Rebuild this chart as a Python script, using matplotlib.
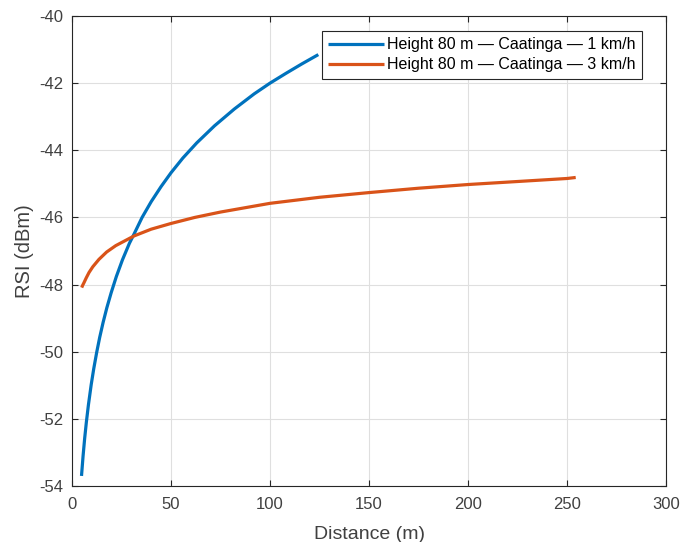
import matplotlib
matplotlib.use("Agg")
import matplotlib.pyplot as plt

plt.rcParams['font.family'] = ['Liberation Sans', 'DejaVu Sans']
plt.rcParams['axes.unicode_minus'] = False

# Height 80 m - Caatinga - 1 km/h
dist_1kmh = [4.8, 5.6, 6.4, 7.25, 8.3, 9.7, 11.0, 12.5, 14.0, 15.7, 17.6, 19.8, 22.4, 25.5, 29.0, 31.3,
             35.4, 40.0, 45.0, 50.0, 56.0, 63.0, 72.0, 82.0, 92.0, 100.0, 108.0, 116.0, 124.4]
rsi_1kmh = [-53.70, -53.10, -52.58, -52.10, -51.58, -50.98, -50.50, -50.01, -49.57, -49.13, -48.69,
            -48.24, -47.76, -47.26, -46.77, -46.50, -46.00, -45.53, -45.08, -44.67, -44.23, -43.78,
            -43.27, -42.77, -42.32, -42.00, -41.71, -41.43, -41.15]

# Height 80 m - Caatinga - 3 km/h
dist_3kmh = [4.9, 5.4, 6.0, 7.2, 8.6, 10.5, 13.6, 17.5, 22.1, 31.4, 40.0, 50.0, 62.0, 75.0, 100.0, 125.0,
             150.0, 175.0, 200.0, 225.0, 250.0, 254.4]
rsi_3kmh = [-48.09, -48.02, -47.95, -47.80, -47.64, -47.47, -47.25, -47.03, -46.84, -46.55, -46.35,
            -46.18, -46.00, -45.84, -45.58, -45.40, -45.26, -45.13, -45.02, -44.93, -44.84, -44.81]

labels = ["Height 80 m \u2014 Caatinga \u2014 1 km/h", "Height 80 m \u2014 Caatinga \u2014 3 km/h"]
xticks = [0, 50, 100, 150, 200, 250, 300]
yticks = [-54, -52, -50, -48, -46, -44, -42, -40]

fig = plt.figure(figsize=(6.81, 5.42), dpi=100)
ax = fig.add_axes([72 / 681, 1 - 486 / 542, 594 / 681, 470 / 542])

ax.plot(dist_1kmh, rsi_1kmh, color='#0072BD', lw=2.3, label=labels[0], solid_capstyle='butt')
ax.plot(dist_3kmh, rsi_3kmh, color='#D95319', lw=2.3, label=labels[1], solid_capstyle='butt')

ax.set_xlim(0, 300)
ax.set_ylim(-54, -40)
ax.set_xticks(xticks)
ax.set_yticks(yticks)
ax.grid(True, color='#dfdfdf', lw=0.8)
ax.set_axisbelow(True)
ax.tick_params(direction='in', top=True, right=True, length=4, width=0.8, colors='#262626',
               labelsize=12, labelcolor='#404040')
ax.tick_params(axis='x', pad=8)
ax.tick_params(axis='y', pad=6)
for s in ax.spines.values():
    s.set_color('#262626')
    s.set_linewidth(0.8)

ax.set_xlabel('Distance (m)', fontsize=14, color='#404040', labelpad=10)
ax.set_ylabel('RSI (dBm)', fontsize=14.5, color='#404040', labelpad=4)

leg = ax.legend(loc='upper right', bbox_to_anchor=((642 - 72) / 594, (486 - 31) / 470),
                borderaxespad=0, fancybox=False, framealpha=1, edgecolor='#262626',
                fontsize=11.5, handlelength=3.5, handletextpad=0.2, labelspacing=0.3,
                borderpad=0.4)
leg.get_frame().set_linewidth(0.8)

fig.savefig('out.png', dpi=100)
